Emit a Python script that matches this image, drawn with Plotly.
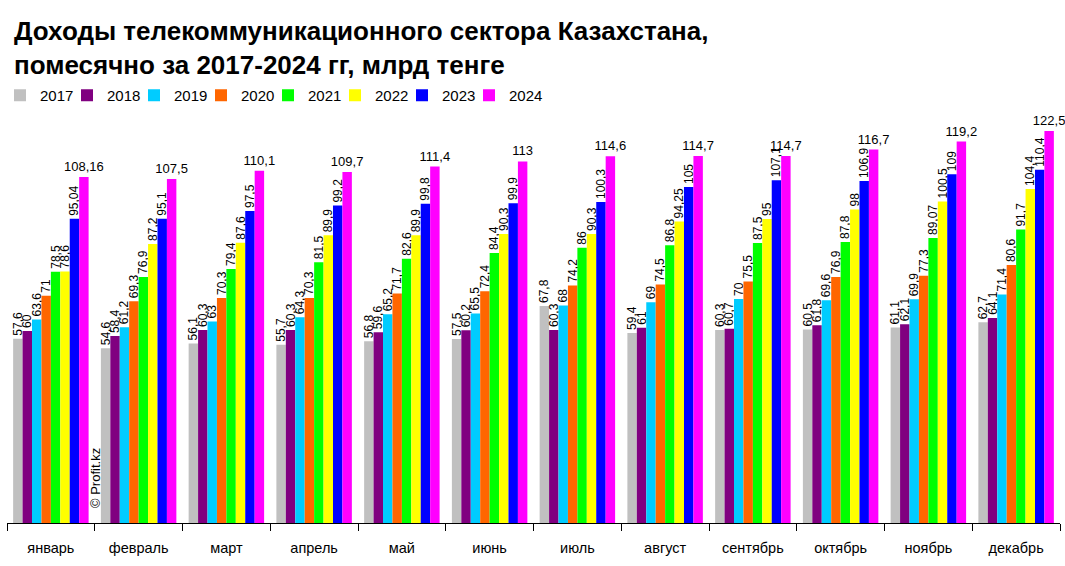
import plotly.graph_objects as go

months = ["январь", "февраль", "март", "апрель", "май", "июнь", "июль",
          "август", "сентябрь", "октябрь", "ноябрь", "декабрь"]
years = ["2017", "2018", "2019", "2020", "2021", "2022", "2023", "2024"]

v2017 = [57.6, 54.6, 56.1, 55.7, 56.8, 57.5, 67.8, 59.4, 60.3, 60.5, 61.1, 62.7]
v2018 = [60, 58.4, 60.3, 60.3, 59.6, 60.2, 60.3, 61, 60.7, 61.8, 62.1, 64.1]
v2019 = [63.6, 61.2, 63, 64.3, 65.2, 65.5, 68, 69, 70, 69.6, 69.9, 71.4]
v2020 = [71, 69.3, 70.3, 70.3, 71.7, 72.4, 74.2, 74.5, 75.5, 76.9, 77.3, 80.6]
v2021 = [78.5, 76.9, 79.4, 81.5, 82.6, 84.4, 86, 86.8, 87.5, 87.8, 89.07, 91.7]
v2022 = [78.6, 87.2, 87.6, 89.9, 89.9, 90.3, 90.3, 94.25, 95, 98, 100.5, 104.4]
v2023 = [95.04, 95.1, 97.5, 99.2, 99.8, 99.9, 100.3, 105, 107.1, 106.9, 109, 110.4]
v2024 = [108.16, 107.5, 110.1, 109.7, 111.4, 113, 114.6, 114.7, 114.7, 116.7, 119.2, 122.5]

series = [v2017, v2018, v2019, v2020, v2021, v2022, v2023, v2024]
colors = ["#C0C0C0", "#800080", "#00CCFF", "#FF6600", "#00FF00", "#FFFF00", "#0000FF", "#FF00FF"]

FONT = "Liberation Sans, Arial, sans-serif"

W, H = 1065, 566
T, B, L, R = 117, 43, 7, 5
PX_PER_UNIT = 3.2
YMAX = (H - T - B) / PX_PER_UNIT


def fmt(v):
    return f"{v:g}".replace(".", ",")


fig = go.Figure()
for name, vals, col in zip(years, series, colors):
    last = name == "2024"
    fig.add_trace(go.Bar(
        name=name, x=months, y=vals,
        marker=dict(color=col, line=dict(width=0)),
        text=[fmt(v) for v in vals],
        textposition="outside",
        textangle=0 if last else -90,
        textfont=dict(family=FONT, size=13 if last else 12, color="black"),
        constraintext="none",
        cliponaxis=False,
    ))

# invisible spacer entry so the last legend label is not clipped
fig.add_trace(go.Scatter(
    x=[None], y=[None], mode="markers", name=" ",
    marker=dict(opacity=0, color="white"), hoverinfo="skip",
))

fig.update_layout(
    width=W, height=H,
    margin=dict(l=L, r=R, t=T, b=B),
    paper_bgcolor="white", plot_bgcolor="white",
    barmode="group", bargap=0.14, bargroupgap=0,
    font=dict(family=FONT, color="black"),
    title=dict(
        text="<b>Доходы телекоммуникационного сектора Казахстана,<br>помесячно за 2017-2024 гг, млрд тенге</b>",
        x=14 / W, xanchor="left", xref="container",
        y=1 - 40 / H, yanchor="middle", yref="container",
        font=dict(family=FONT, size=26, color="black"),
    ),
    legend=dict(
        orientation="h", x=0.0, xanchor="left", xref="container",
        y=1 - 79 / H, yanchor="top", yref="container",
        font=dict(family=FONT, size=15, color="black"),
        itemwidth=30, entrywidth=22, entrywidthmode="pixels",
        traceorder="normal", itemclick=False,
    ),
    xaxis=dict(
        type="category", tickson="boundaries", ticks="outside", ticklen=7,
        tickcolor="black", showline=True, linecolor="black", linewidth=1,
        tickfont=dict(family=FONT, size=14.5, color="black"), showgrid=False,
        ticklabelstandoff=12,
    ),
    yaxis=dict(range=[0, YMAX], visible=False, showgrid=False),
    showlegend=True,
)

fig.add_annotation(
    text="© Profit.kz", xref="paper", yref="paper",
    x=(95 - L) / (W - L - R), y=(523 - 478) / (H - T - B),
    xanchor="center", yanchor="middle",
    showarrow=False, textangle=-90,
    font=dict(family=FONT, size=13, color="black"),
)

fig.write_html("out.html")
